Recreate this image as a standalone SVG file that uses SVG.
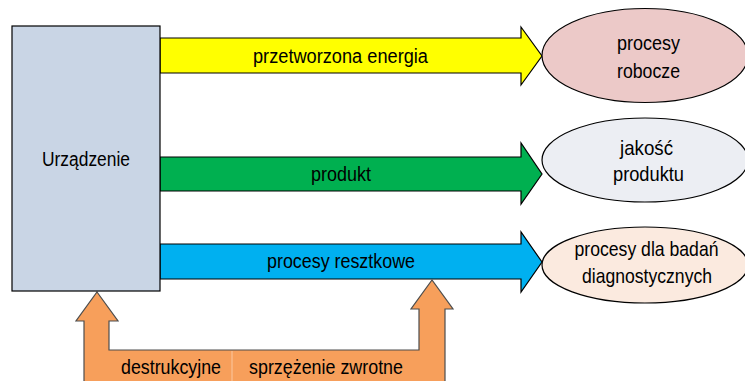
<svg xmlns="http://www.w3.org/2000/svg" width="745" height="381" viewBox="0 0 745 381">
<style>
  text { font-family: "Liberation Sans", Arial, sans-serif; font-size: 20px; fill: #000; text-anchor: middle; }
  .big { font-size: 21px; }
  .arrow { stroke: #000; stroke-width: 1.2; stroke-linejoin: miter; }
  .node { stroke: #000; stroke-width: 1.2; }
</style>
<rect width="745" height="381" fill="#fff"/>
<g id="connectors">
  <g id="arrow-energia">
    <polygon class="arrow" fill="#ffff00" points="160,38 521,38 521,27 542,56 521,85 521,73 160,73"/>
    <text x="340.5" y="63" textLength="175" lengthAdjust="spacingAndGlyphs">przetworzona energia</text>
  </g>
  <g id="arrow-produkt">
    <polygon class="arrow" fill="#00b050" points="160,157 521,157 521,143 542,174 521,204 521,191 160,191"/>
    <text x="341" y="181" textLength="60" lengthAdjust="spacingAndGlyphs">produkt</text>
  </g>
  <g id="arrow-resztkowe">
    <polygon class="arrow" fill="#00b0f0" points="160,244 521,244 521,232 542,262 521,292 521,279 160,279"/>
    <text x="341" y="268" textLength="148" lengthAdjust="spacingAndGlyphs">procesy resztkowe</text>
  </g>
  <g id="arrow-feedback">
    <polygon fill="#f79f5b" stroke="#4d4d4d" stroke-width="1.2" points="97,292 118,321 109,321 109,350 419,350 419,309 411,309 432,280 453,309 445,309 445,390 84,390 84,321 76,321"/>
    <line x1="232" y1="351" x2="232" y2="381" stroke="#fbc7a0" stroke-width="1"/>
    <text x="171" y="374" textLength="100" lengthAdjust="spacingAndGlyphs">destrukcyjne</text>
    <text x="326" y="374" textLength="154" lengthAdjust="spacingAndGlyphs">sprzężenie zwrotne</text>
  </g>
</g>
<g id="urzadzenie">
  <rect class="node" x="12" y="26" width="148" height="265" fill="#c9d5e5"/>
  <text x="86" y="166" textLength="88" lengthAdjust="spacingAndGlyphs">Urządzenie</text>
</g>
<g id="procesy-robocze">
  <ellipse class="node" cx="645" cy="55.5" rx="103" ry="47" fill="#ecc9c8"/>
  <text class="big" x="648.5" y="50" textLength="63" lengthAdjust="spacingAndGlyphs">procesy</text>
  <text class="big" x="648.5" y="78" textLength="63" lengthAdjust="spacingAndGlyphs">robocze</text>
</g>
<g id="jakosc-produktu">
  <ellipse class="node" cx="645" cy="160" rx="103" ry="42" fill="#eceef3"/>
  <text class="big" x="646.5" y="155" textLength="53" lengthAdjust="spacingAndGlyphs">jakość</text>
  <text class="big" x="648.5" y="181" textLength="71" lengthAdjust="spacingAndGlyphs">produktu</text>
</g>
<g id="procesy-diagnostyczne">
  <ellipse class="node" cx="645" cy="265" rx="103" ry="38" fill="#fbeadf"/>
  <text class="big" x="646.5" y="256" textLength="144" lengthAdjust="spacingAndGlyphs">procesy dla badań</text>
  <text class="big" x="647" y="283" textLength="130" lengthAdjust="spacingAndGlyphs">diagnostycznych</text>
</g>
</svg>
